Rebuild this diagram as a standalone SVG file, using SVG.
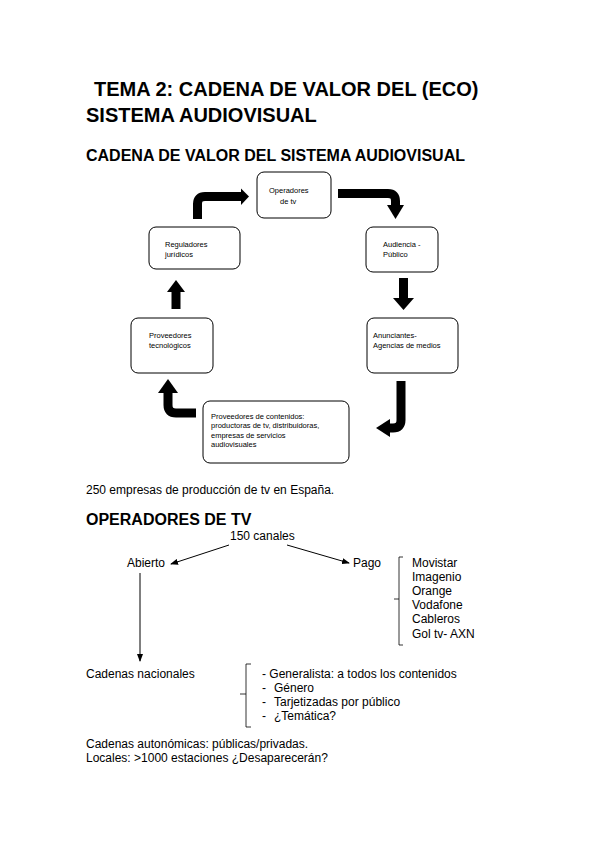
<svg xmlns="http://www.w3.org/2000/svg" width="599" height="848" viewBox="0 0 599 848">
<style>
text{font-family:"Liberation Sans",Arial,sans-serif;fill:#000}
.h1{font-size:20px;font-weight:bold}
.h2{font-size:16px;font-weight:bold}
.b{font-size:12px}
.s{font-size:7.5px}
.box{fill:#fff;stroke:#000;stroke-width:1}
.fat{fill:none;stroke:#000;stroke-width:9}
.thin{fill:none;stroke:#000;stroke-width:1}
.br{fill:none;stroke:#000;stroke-width:0.8}
</style>
<defs>
<marker id="ah" markerWidth="8" markerHeight="6" refX="7" refY="3" orient="auto" markerUnits="userSpaceOnUse">
<path d="M0,0 L8,3 L0,6 Z" fill="#000"/>
</marker>
</defs>
<rect width="599" height="848" fill="#fff"/>

<g id="titles">
<text class="h1" x="94" y="96">TEMA 2: CADENA DE VALOR DEL (ECO)</text>
<text class="h1" x="86" y="122">SISTEMA AUDIOVISUAL</text>
<text class="h2" x="86" y="161">CADENA DE VALOR DEL SISTEMA AUDIOVISUAL</text>
</g>

<g id="operadores">
<rect class="box" x="257" y="172" width="74" height="46" rx="7"/>
<text class="s" x="269" y="193">Operadores</text>
<text class="s" x="280" y="204">de tv</text>
</g>
<g id="reguladores">
<rect class="box" x="149" y="227" width="91" height="42" rx="7"/>
<text class="s" x="165" y="247">Reguladores</text>
<text class="s" x="165" y="257">jurídicos</text>
</g>
<g id="audiencia">
<rect class="box" x="366" y="227" width="72" height="45" rx="7"/>
<text class="s" x="383" y="247">Audiencia -</text>
<text class="s" x="383" y="257">Público</text>
</g>
<g id="prov-tec">
<rect class="box" x="131" y="318" width="82" height="55" rx="7"/>
<text class="s" x="149" y="338">Proveedores</text>
<text class="s" x="149" y="348">tecnológicos</text>
</g>
<g id="anunciantes">
<rect class="box" x="367" y="318" width="91" height="55" rx="7"/>
<text class="s" x="373" y="338">Anunciantes-</text>
<text class="s" x="373" y="348">Agencias de medios</text>
</g>
<g id="prov-cont">
<rect class="box" x="203" y="401" width="146" height="62" rx="7"/>
<text class="s" x="211" y="419">Proveedores de contenidos:</text>
<text class="s" x="211" y="428">productoras de tv, distribuidoras,</text>
<text class="s" x="211" y="438">empresas de servicios</text>
<text class="s" x="211" y="447">audiovisuales</text>
</g>

<g id="cycle-connectors">
<path class="fat" d="M197.5 219 V204 Q197.5 196.5 205 196.5 H242"/>
<polygon points="241,188.5 249,196.5 241,205"/>
<path class="fat" d="M338 193.5 H388 Q395.5 193.5 395.5 201 V206"/>
<polygon points="387,205 404,205 395.5,219"/>
<path class="fat" d="M403.5 278 V299"/>
<polygon points="393,298 414,298 403.5,310"/>
<path class="fat" d="M176 309 V291"/>
<polygon points="167,292 185,292 176,280"/>
<path class="fat" d="M196 413 H176 Q168 413 168 405 V392"/>
<polygon points="158,393 178,393 168,379"/>
<path class="fat" d="M401 381 V420 Q401 428 393 428 H388"/>
<polygon points="390,419 390,437 376,428"/>
</g>

<g id="note">
<text class="b" x="86" y="494">250 empresas de producción de tv en España.</text>
</g>

<g id="op-heading">
<text class="h2" x="86" y="525">OPERADORES DE TV</text>
</g>
<g id="canales"><text class="b" x="230" y="540">150 canales</text></g>
<g id="abierto"><text class="b" x="127" y="567">Abierto</text></g>
<g id="pago"><text class="b" x="353" y="567">Pago</text></g>
<g id="pago-list">
<path class="br" d="M403 557 H399 V645 H403 M399 599 H394"/>
<text class="b" x="412" y="567">Movistar</text>
<text class="b" x="412" y="581">Imagenio</text>
<text class="b" x="412" y="595">Orange</text>
<text class="b" x="412" y="609">Vodafone</text>
<text class="b" x="412" y="623">Cableros</text>
<text class="b" x="412" y="638">Gol tv- AXN</text>
</g>
<g id="nacionales"><text class="b" x="86" y="678">Cadenas nacionales</text></g>
<g id="nac-list">
<path class="br" d="M251 664 H246 V727 H251 M246 694 H240"/>
<text class="b" x="262" y="678">- Generalista: a todos los contenidos</text>
<text class="b" x="262" y="692">-</text><text class="b" x="274" y="692">Género</text>
<text class="b" x="262" y="706">-</text><text class="b" x="274" y="706">Tarjetizadas por público</text>
<text class="b" x="262" y="720">-</text><text class="b" x="274" y="720">¿Temática?</text>
</g>
<g id="footer">
<text class="b" x="86" y="748">Cadenas autonómicas: públicas/privadas.</text>
<text class="b" x="86" y="762">Locales: &gt;1000 estaciones ¿Desaparecerán?</text>
</g>

<g id="tv-connectors">
<line class="thin" x1="229" y1="545" x2="171" y2="564" marker-end="url(#ah)"/>
<line class="thin" x1="287" y1="545" x2="349" y2="563" marker-end="url(#ah)"/>
<line class="thin" x1="140" y1="573" x2="140" y2="661" marker-end="url(#ah)"/>
</g>
</svg>
